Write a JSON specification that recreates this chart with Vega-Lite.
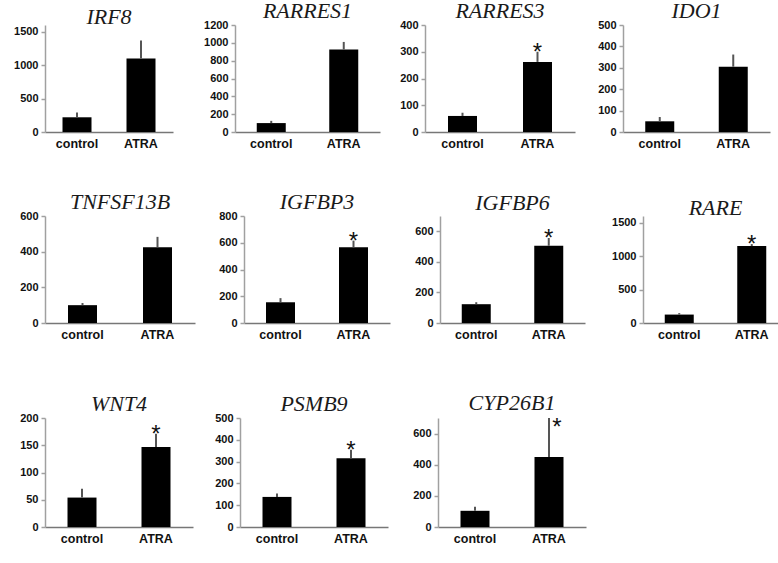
{
  "$schema": "https://vega.github.io/schema/vega-lite/v6.json",
  "padding": {"top": 0, "left": 0, "right": 0, "bottom": 0},
  "background": "white",
  "datasets": {
    "expr": [
      {"gene": "IRF8", "group": "control", "value": 220, "upper": 290, "star": ""},
      {"gene": "IRF8", "group": "ATRA", "value": 1100, "upper": 1370, "star": ""},
      {"gene": "RARRES1", "group": "control", "value": 100, "upper": 125, "star": ""},
      {"gene": "RARRES1", "group": "ATRA", "value": 925, "upper": 1010, "star": ""},
      {"gene": "RARRES3", "group": "control", "value": 60, "upper": 72, "star": ""},
      {"gene": "RARRES3", "group": "ATRA", "value": 262, "upper": 300, "star": "*"},
      {"gene": "IDO1", "group": "control", "value": 50, "upper": 70, "star": ""},
      {"gene": "IDO1", "group": "ATRA", "value": 305, "upper": 362, "star": ""},
      {"gene": "TNFSF13B", "group": "control", "value": 100, "upper": 112, "star": ""},
      {"gene": "TNFSF13B", "group": "ATRA", "value": 425, "upper": 483, "star": ""},
      {"gene": "IGFBP3", "group": "control", "value": 155, "upper": 186, "star": ""},
      {"gene": "IGFBP3", "group": "ATRA", "value": 566, "upper": 616, "star": "*"},
      {"gene": "IGFBP6", "group": "control", "value": 123, "upper": 136, "star": ""},
      {"gene": "IGFBP6", "group": "ATRA", "value": 505, "upper": 556, "star": "*"},
      {"gene": "RARE", "group": "control", "value": 126, "upper": 148, "star": ""},
      {"gene": "RARE", "group": "ATRA", "value": 1150, "upper": 1180, "star": "*"},
      {"gene": "WNT4", "group": "control", "value": 54, "upper": 70, "star": ""},
      {"gene": "WNT4", "group": "ATRA", "value": 147, "upper": 171, "star": "*"},
      {"gene": "PSMB9", "group": "control", "value": 138, "upper": 154, "star": ""},
      {"gene": "PSMB9", "group": "ATRA", "value": 315, "upper": 354, "star": "*"},
      {"gene": "CYP26B1", "group": "control", "value": 104, "upper": 130, "star": ""},
      {"gene": "CYP26B1", "group": "ATRA", "value": 450, "upper": 700, "star": "*"}
    ]
  },
  "config": {
    "view": {"stroke": null},
    "title": {"font": "Liberation Serif", "fontStyle": "italic", "fontWeight": "normal", "fontSize": 22, "color": "#1a1a1a", "offset": -4},
    "axisY": {"grid": false, "title": null, "format": "d", "tickCount": 20, "labelOverlap": false, "domainColor": "#a0a0a0", "domainWidth": 1.5, "tickColor": "#a0a0a0", "tickSize": 4, "tickWidth": 1.5, "labelPadding": 3, "labelFont": "Liberation Sans", "labelFontWeight": "bold", "labelFontSize": 11, "labelColor": "#111"},
    "axisX": {"grid": false, "title": null, "domainColor": "#777", "domainWidth": 1.5, "ticks": false, "labelAngle": 0, "labelPadding": 5, "labelFont": "Liberation Sans", "labelFontWeight": "bold", "labelFontSize": 12.5, "labelColor": "#111"}
  },
  "vconcat": [
    {
      "hconcat": [
        {
          "width": 128, "height": 107, "title": "IRF8",
          "data": {"name": "expr"},
          "transform": [{"filter": "datum.gene === 'IRF8'"}],
          "encoding": {"x": {"field": "group", "type": "nominal", "sort": ["control", "ATRA"], "scale": {"paddingInner": 0, "paddingOuter": 0}}},
          "layer": [
            {"mark": {"type": "bar", "size": 29, "color": "black"}, "encoding": {"y": {"field": "value", "type": "quantitative", "scale": {"domain": [0, 1500]}, "axis": {"values": [0, 500, 1000, 1500], "tickCount": 20, "labelFlush": false, "minExtent": 45, "maxExtent": 45}}}},
            {"mark": {"type": "rule", "color": "#555", "strokeWidth": 2}, "encoding": {"y": {"field": "value", "type": "quantitative"}, "y2": {"field": "upper"}}},
            {"mark": {"type": "text", "fontSize": 24, "font": "Liberation Sans", "baseline": "alphabetic", "dy": 8, "color": "#111"}, "encoding": {"y": {"field": "upper", "type": "quantitative"}, "text": {"field": "star"}}}
          ]
        },
        {
          "width": 145, "height": 107, "title": "RARRES1",
          "data": {"name": "expr"},
          "transform": [{"filter": "datum.gene === 'RARRES1'"}],
          "encoding": {"x": {"field": "group", "type": "nominal", "sort": ["control", "ATRA"], "scale": {"paddingInner": 0, "paddingOuter": 0}}},
          "layer": [
            {"mark": {"type": "bar", "size": 29, "color": "black"}, "encoding": {"y": {"field": "value", "type": "quantitative", "scale": {"domain": [0, 1200]}, "axis": {"values": [0, 200, 400, 600, 800, 1000, 1200], "tickCount": 20, "labelFlush": false, "minExtent": 62, "maxExtent": 62}}}},
            {"mark": {"type": "rule", "color": "#555", "strokeWidth": 2}, "encoding": {"y": {"field": "value", "type": "quantitative"}, "y2": {"field": "upper"}}},
            {"mark": {"type": "text", "fontSize": 24, "font": "Liberation Sans", "baseline": "alphabetic", "dy": 8, "color": "#111"}, "encoding": {"y": {"field": "upper", "type": "quantitative"}, "text": {"field": "star"}}}
          ]
        },
        {
          "width": 150, "height": 107, "title": "RARRES3",
          "data": {"name": "expr"},
          "transform": [{"filter": "datum.gene === 'RARRES3'"}],
          "encoding": {"x": {"field": "group", "type": "nominal", "sort": ["control", "ATRA"], "scale": {"paddingInner": 0, "paddingOuter": 0}}},
          "layer": [
            {"mark": {"type": "bar", "size": 29, "color": "black"}, "encoding": {"y": {"field": "value", "type": "quantitative", "scale": {"domain": [0, 400]}, "axis": {"values": [0, 100, 200, 300, 400], "tickCount": 20, "labelFlush": false, "minExtent": 45, "maxExtent": 45}}}},
            {"mark": {"type": "rule", "color": "#555", "strokeWidth": 2}, "encoding": {"y": {"field": "value", "type": "quantitative"}, "y2": {"field": "upper"}}},
            {"mark": {"type": "text", "fontSize": 24, "font": "Liberation Sans", "baseline": "alphabetic", "dy": 8, "color": "#111"}, "encoding": {"y": {"field": "upper", "type": "quantitative"}, "text": {"field": "star"}}}
          ]
        },
        {
          "width": 147, "height": 107, "title": "IDO1",
          "data": {"name": "expr"},
          "transform": [{"filter": "datum.gene === 'IDO1'"}],
          "encoding": {"x": {"field": "group", "type": "nominal", "sort": ["control", "ATRA"], "scale": {"paddingInner": 0, "paddingOuter": 0}}},
          "layer": [
            {"mark": {"type": "bar", "size": 29, "color": "black"}, "encoding": {"y": {"field": "value", "type": "quantitative", "scale": {"domain": [0, 500]}, "axis": {"values": [0, 100, 200, 300, 400, 500], "tickCount": 20, "labelFlush": false, "minExtent": 48, "maxExtent": 48}}}},
            {"mark": {"type": "rule", "color": "#555", "strokeWidth": 2}, "encoding": {"y": {"field": "value", "type": "quantitative"}, "y2": {"field": "upper"}}},
            {"mark": {"type": "text", "fontSize": 24, "font": "Liberation Sans", "baseline": "alphabetic", "dy": 8, "color": "#111"}, "encoding": {"y": {"field": "upper", "type": "quantitative"}, "text": {"field": "star"}}}
          ]
        }
      ],
      "spacing": 0
    },
    {
      "vconcat": [
        {
          "hconcat": [
            {
              "width": 150, "height": 107, "title": "TNFSF13B",
              "data": {"name": "expr"},
              "transform": [{"filter": "datum.gene === 'TNFSF13B'"}],
              "encoding": {"x": {"field": "group", "type": "nominal", "sort": ["control", "ATRA"], "scale": {"paddingInner": 0, "paddingOuter": 0}}},
              "layer": [
                {"mark": {"type": "bar", "size": 29, "color": "black"}, "encoding": {"y": {"field": "value", "type": "quantitative", "scale": {"domain": [0, 600]}, "axis": {"values": [0, 200, 400, 600], "tickCount": 20, "labelFlush": false, "minExtent": 30, "maxExtent": 30}}}},
                {"mark": {"type": "rule", "color": "#555", "strokeWidth": 2}, "encoding": {"y": {"field": "value", "type": "quantitative"}, "y2": {"field": "upper"}}},
                {"mark": {"type": "text", "fontSize": 24, "font": "Liberation Sans", "baseline": "alphabetic", "dy": 8, "color": "#111"}, "encoding": {"y": {"field": "upper", "type": "quantitative"}, "text": {"field": "star"}}}
              ]
            },
            {
              "width": 146, "height": 107, "title": "IGFBP3",
              "data": {"name": "expr"},
              "transform": [{"filter": "datum.gene === 'IGFBP3'"}],
              "encoding": {"x": {"field": "group", "type": "nominal", "sort": ["control", "ATRA"], "scale": {"paddingInner": 0, "paddingOuter": 0}}},
              "layer": [
                {"mark": {"type": "bar", "size": 29, "color": "black"}, "encoding": {"y": {"field": "value", "type": "quantitative", "scale": {"domain": [0, 800]}, "axis": {"values": [0, 200, 400, 600, 800], "tickCount": 20, "labelFlush": false, "minExtent": 49, "maxExtent": 49}}}},
                {"mark": {"type": "rule", "color": "#555", "strokeWidth": 2}, "encoding": {"y": {"field": "value", "type": "quantitative"}, "y2": {"field": "upper"}}},
                {"mark": {"type": "text", "fontSize": 24, "font": "Liberation Sans", "baseline": "alphabetic", "dy": 8, "color": "#111"}, "encoding": {"y": {"field": "upper", "type": "quantitative"}, "text": {"field": "star"}}}
              ]
            },
            {
              "width": 145, "height": 107, "title": {"text": "IGFBP6", "offset": 1},
              "data": {"name": "expr"},
              "transform": [{"filter": "datum.gene === 'IGFBP6'"}],
              "encoding": {"x": {"field": "group", "type": "nominal", "sort": ["control", "ATRA"], "scale": {"paddingInner": 0, "paddingOuter": 0}}},
              "layer": [
                {"mark": {"type": "bar", "size": 29, "color": "black"}, "encoding": {"y": {"field": "value", "type": "quantitative", "scale": {"domain": [0, 700]}, "axis": {"values": [0, 200, 400, 600], "tickCount": 20, "labelFlush": false, "minExtent": 50, "maxExtent": 50}}}},
                {"mark": {"type": "rule", "color": "#555", "strokeWidth": 2}, "encoding": {"y": {"field": "value", "type": "quantitative"}, "y2": {"field": "upper"}}},
                {"mark": {"type": "text", "fontSize": 24, "font": "Liberation Sans", "baseline": "alphabetic", "dy": 8, "color": "#111"}, "encoding": {"y": {"field": "upper", "type": "quantitative"}, "text": {"field": "star"}}}
              ]
            },
            {
              "width": 145, "height": 107, "title": "RARE",
              "data": {"name": "expr"},
              "transform": [{"filter": "datum.gene === 'RARE'"}],
              "encoding": {"x": {"field": "group", "type": "nominal", "sort": ["control", "ATRA"], "scale": {"paddingInner": 0, "paddingOuter": 0}}},
              "layer": [
                {"mark": {"type": "bar", "size": 29, "color": "black"}, "encoding": {"y": {"field": "value", "type": "quantitative", "scale": {"domain": [0, 1500]}, "axis": {"values": [0, 500, 1000, 1500], "tickCount": 20, "labelFlush": false, "minExtent": 58, "maxExtent": 58}}}},
                {"mark": {"type": "rule", "color": "#555", "strokeWidth": 2}, "encoding": {"y": {"field": "value", "type": "quantitative"}, "y2": {"field": "upper"}}},
                {"mark": {"type": "text", "fontSize": 24, "font": "Liberation Sans", "baseline": "alphabetic", "dy": 8, "color": "#111"}, "encoding": {"y": {"field": "upper", "type": "quantitative"}, "text": {"field": "star"}}}
              ]
            }
          ],
          "spacing": 0
        },
        {
          "hconcat": [
            {
              "width": 148, "height": 109, "title": "WNT4",
              "data": {"name": "expr"},
              "transform": [{"filter": "datum.gene === 'WNT4'"}],
              "encoding": {"x": {"field": "group", "type": "nominal", "sort": ["control", "ATRA"], "scale": {"paddingInner": 0, "paddingOuter": 0}}},
              "layer": [
                {"mark": {"type": "bar", "size": 29, "color": "black"}, "encoding": {"y": {"field": "value", "type": "quantitative", "scale": {"domain": [0, 200]}, "axis": {"values": [0, 50, 100, 150, 200], "tickCount": 20, "labelFlush": false, "minExtent": 32, "maxExtent": 32}}}},
                {"mark": {"type": "rule", "color": "#555", "strokeWidth": 2}, "encoding": {"y": {"field": "value", "type": "quantitative"}, "y2": {"field": "upper"}}},
                {"mark": {"type": "text", "fontSize": 24, "font": "Liberation Sans", "baseline": "alphabetic", "dy": 8, "color": "#111"}, "encoding": {"y": {"field": "upper", "type": "quantitative"}, "text": {"field": "star"}}}
              ]
            },
            {
              "width": 148, "height": 109, "title": "PSMB9",
              "data": {"name": "expr"},
              "transform": [{"filter": "datum.gene === 'PSMB9'"}],
              "encoding": {"x": {"field": "group", "type": "nominal", "sort": ["control", "ATRA"], "scale": {"paddingInner": 0, "paddingOuter": 0}}},
              "layer": [
                {"mark": {"type": "bar", "size": 29, "color": "black"}, "encoding": {"y": {"field": "value", "type": "quantitative", "scale": {"domain": [0, 500]}, "axis": {"values": [0, 100, 200, 300, 400, 500], "tickCount": 20, "labelFlush": false, "minExtent": 47, "maxExtent": 47}}}},
                {"mark": {"type": "rule", "color": "#555", "strokeWidth": 2}, "encoding": {"y": {"field": "value", "type": "quantitative"}, "y2": {"field": "upper"}}},
                {"mark": {"type": "text", "fontSize": 24, "font": "Liberation Sans", "baseline": "alphabetic", "dy": 8, "color": "#111"}, "encoding": {"y": {"field": "upper", "type": "quantitative"}, "text": {"field": "star"}}}
              ]
            },
            {
              "width": 148, "height": 109, "title": {"text": "CYP26B1", "offset": 1},
              "data": {"name": "expr"},
              "transform": [{"filter": "datum.gene === 'CYP26B1'"}],
              "encoding": {"x": {"field": "group", "type": "nominal", "sort": ["control", "ATRA"], "scale": {"paddingInner": 0, "paddingOuter": 0}}},
              "layer": [
                {"mark": {"type": "bar", "size": 29, "color": "black"}, "encoding": {"y": {"field": "value", "type": "quantitative", "scale": {"domain": [0, 700]}, "axis": {"values": [0, 200, 400, 600], "tickCount": 20, "labelFlush": false, "minExtent": 50, "maxExtent": 50}}}},
                {"mark": {"type": "rule", "color": "#555", "strokeWidth": 2}, "encoding": {"y": {"field": "value", "type": "quantitative"}, "y2": {"field": "upper"}}},
                {"mark": {"type": "text", "fontSize": 24, "font": "Liberation Sans", "baseline": "alphabetic", "dy": 17, "dx": 8, "color": "#111"}, "encoding": {"y": {"field": "upper", "type": "quantitative"}, "text": {"field": "star"}}}
              ]
            }
          ],
          "spacing": 0
        }
      ],
      "spacing": 51
    }
  ],
  "spacing": 41
}
